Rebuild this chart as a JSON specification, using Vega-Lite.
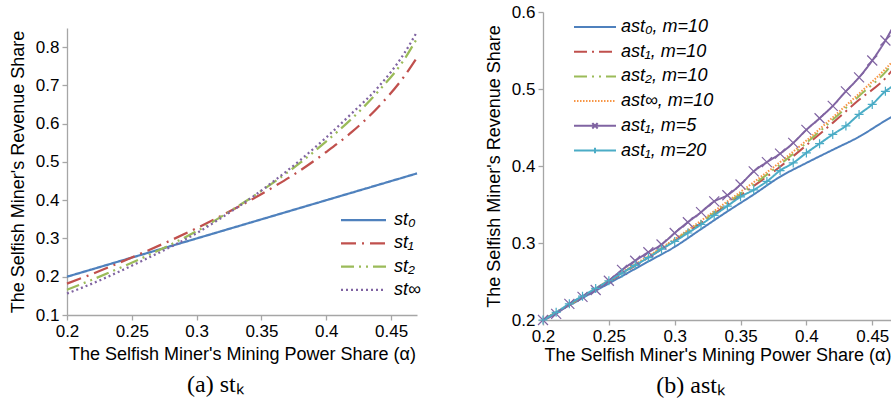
{
  "$schema": "https://vega.github.io/schema/vega-lite/v6.json",
  "padding": {"left": 9, "top": 3, "right": 0, "bottom": 0},
  "spacing": 63,
  "resolve": {"scale": {"color": "independent", "strokeDash": "independent"}, "legend": {"color": "independent", "strokeDash": "independent"}},
  "config": {
    "font": "Liberation Sans",
    "view": {"stroke": null},
    "axis": {"grid": false, "domainColor": "#a6a6a6", "tickColor": "#a6a6a6", "domainWidth": 1.3, "tickWidth": 1.3, "tickSize": 5, "labelColor": "#000", "titleColor": "#000", "labelFont": "Liberation Sans", "titleFont": "Liberation Sans", "labelFontSize": 17, "titleFontSize": 18, "titleFontWeight": "normal", "labelPadding": 3},
    "axisX": {"labelFlush": false, "titlePadding": 4},
    "axisY": {"titlePadding": 8},
    "legend": {"labelFont": "Liberation Sans", "labelColor": "#000", "padding": 0},
    "title": {"font": "Liberation Serif", "fontSize": 24, "fontWeight": "normal", "color": "#000"}
  },
  "datasets": {
    "left": [
      {"a": 0.2, "v": 0.2, "s": "st₀"}, {"a": 0.3, "v": 0.3, "s": "st₀"}, {"a": 0.4, "v": 0.4, "s": "st₀"}, {"a": 0.47, "v": 0.47, "s": "st₀"},
      {"a": 0.2, "v": 0.182, "s": "st₁"}, {"a": 0.22, "v": 0.208, "s": "st₁"}, {"a": 0.24, "v": 0.236, "s": "st₁"}, {"a": 0.26, "v": 0.265, "s": "st₁"}, {"a": 0.28, "v": 0.295, "s": "st₁"}, {"a": 0.3, "v": 0.327, "s": "st₁"}, {"a": 0.32, "v": 0.361, "s": "st₁"}, {"a": 0.34, "v": 0.397, "s": "st₁"}, {"a": 0.36, "v": 0.436, "s": "st₁"}, {"a": 0.38, "v": 0.478, "s": "st₁"}, {"a": 0.4, "v": 0.526, "s": "st₁"}, {"a": 0.42, "v": 0.579, "s": "st₁"}, {"a": 0.44, "v": 0.643, "s": "st₁"}, {"a": 0.46, "v": 0.723, "s": "st₁"}, {"a": 0.47, "v": 0.773, "s": "st₁"},
      {"a": 0.2, "v": 0.166, "s": "st₂"}, {"a": 0.22, "v": 0.193, "s": "st₂"}, {"a": 0.24, "v": 0.222, "s": "st₂"}, {"a": 0.26, "v": 0.252, "s": "st₂"}, {"a": 0.28, "v": 0.284, "s": "st₂"}, {"a": 0.3, "v": 0.319, "s": "st₂"}, {"a": 0.32, "v": 0.359, "s": "st₂"}, {"a": 0.34, "v": 0.402, "s": "st₂"}, {"a": 0.36, "v": 0.448, "s": "st₂"}, {"a": 0.38, "v": 0.498, "s": "st₂"}, {"a": 0.4, "v": 0.554, "s": "st₂"}, {"a": 0.42, "v": 0.614, "s": "st₂"}, {"a": 0.44, "v": 0.684, "s": "st₂"}, {"a": 0.46, "v": 0.767, "s": "st₂"}, {"a": 0.47, "v": 0.823, "s": "st₂"},
      {"a": 0.2, "v": 0.156, "s": "st∞"}, {"a": 0.22, "v": 0.183, "s": "st∞"}, {"a": 0.24, "v": 0.213, "s": "st∞"}, {"a": 0.26, "v": 0.245, "s": "st∞"}, {"a": 0.28, "v": 0.278, "s": "st∞"}, {"a": 0.3, "v": 0.314, "s": "st∞"}, {"a": 0.32, "v": 0.356, "s": "st∞"}, {"a": 0.34, "v": 0.401, "s": "st∞"}, {"a": 0.36, "v": 0.451, "s": "st∞"}, {"a": 0.38, "v": 0.505, "s": "st∞"}, {"a": 0.4, "v": 0.564, "s": "st∞"}, {"a": 0.42, "v": 0.628, "s": "st∞"}, {"a": 0.44, "v": 0.695, "s": "st∞"}, {"a": 0.46, "v": 0.783, "s": "st∞"}, {"a": 0.47, "v": 0.84, "s": "st∞"}
    ],
    "right": [
      {"a": 0.2, "v": 0.2, "s": "ast₀, m=10"}, {"a": 0.22, "v": 0.219, "s": "ast₀, m=10"}, {"a": 0.24, "v": 0.238, "s": "ast₀, m=10"}, {"a": 0.26, "v": 0.257, "s": "ast₀, m=10"}, {"a": 0.28, "v": 0.276, "s": "ast₀, m=10"}, {"a": 0.3, "v": 0.295, "s": "ast₀, m=10"}, {"a": 0.32, "v": 0.318, "s": "ast₀, m=10"}, {"a": 0.34, "v": 0.341, "s": "ast₀, m=10"}, {"a": 0.36, "v": 0.363, "s": "ast₀, m=10"}, {"a": 0.38, "v": 0.386, "s": "ast₀, m=10"}, {"a": 0.4, "v": 0.404, "s": "ast₀, m=10"}, {"a": 0.42, "v": 0.421, "s": "ast₀, m=10"}, {"a": 0.44, "v": 0.438, "s": "ast₀, m=10"}, {"a": 0.46, "v": 0.459, "s": "ast₀, m=10"}, {"a": 0.465, "v": 0.464, "s": "ast₀, m=10"},
      {"a": 0.2, "v": 0.2, "s": "ast₁, m=10"}, {"a": 0.22, "v": 0.22, "s": "ast₁, m=10"}, {"a": 0.24, "v": 0.24, "s": "ast₁, m=10"}, {"a": 0.26, "v": 0.26, "s": "ast₁, m=10"}, {"a": 0.28, "v": 0.281, "s": "ast₁, m=10"}, {"a": 0.3, "v": 0.303, "s": "ast₁, m=10"}, {"a": 0.32, "v": 0.326, "s": "ast₁, m=10"}, {"a": 0.34, "v": 0.35, "s": "ast₁, m=10"}, {"a": 0.36, "v": 0.374, "s": "ast₁, m=10"}, {"a": 0.38, "v": 0.399, "s": "ast₁, m=10"}, {"a": 0.4, "v": 0.427, "s": "ast₁, m=10"}, {"a": 0.42, "v": 0.456, "s": "ast₁, m=10"}, {"a": 0.44, "v": 0.486, "s": "ast₁, m=10"}, {"a": 0.46, "v": 0.514, "s": "ast₁, m=10"}, {"a": 0.465, "v": 0.524, "s": "ast₁, m=10"},
      {"a": 0.2, "v": 0.2, "s": "ast₂, m=10"}, {"a": 0.22, "v": 0.22, "s": "ast₂, m=10"}, {"a": 0.24, "v": 0.241, "s": "ast₂, m=10"}, {"a": 0.26, "v": 0.261, "s": "ast₂, m=10"}, {"a": 0.28, "v": 0.282, "s": "ast₂, m=10"}, {"a": 0.3, "v": 0.304, "s": "ast₂, m=10"}, {"a": 0.32, "v": 0.327, "s": "ast₂, m=10"}, {"a": 0.34, "v": 0.352, "s": "ast₂, m=10"}, {"a": 0.36, "v": 0.376, "s": "ast₂, m=10"}, {"a": 0.38, "v": 0.402, "s": "ast₂, m=10"}, {"a": 0.4, "v": 0.43, "s": "ast₂, m=10"}, {"a": 0.42, "v": 0.46, "s": "ast₂, m=10"}, {"a": 0.44, "v": 0.491, "s": "ast₂, m=10"}, {"a": 0.46, "v": 0.522, "s": "ast₂, m=10"}, {"a": 0.465, "v": 0.532, "s": "ast₂, m=10"},
      {"a": 0.2, "v": 0.2, "s": "ast∞, m=10"}, {"a": 0.22, "v": 0.22, "s": "ast∞, m=10"}, {"a": 0.24, "v": 0.241, "s": "ast∞, m=10"}, {"a": 0.26, "v": 0.262, "s": "ast∞, m=10"}, {"a": 0.28, "v": 0.283, "s": "ast∞, m=10"}, {"a": 0.3, "v": 0.305, "s": "ast∞, m=10"}, {"a": 0.32, "v": 0.329, "s": "ast∞, m=10"}, {"a": 0.34, "v": 0.354, "s": "ast∞, m=10"}, {"a": 0.36, "v": 0.379, "s": "ast∞, m=10"}, {"a": 0.38, "v": 0.405, "s": "ast∞, m=10"}, {"a": 0.4, "v": 0.433, "s": "ast∞, m=10"}, {"a": 0.42, "v": 0.463, "s": "ast∞, m=10"}, {"a": 0.44, "v": 0.494, "s": "ast∞, m=10"}, {"a": 0.46, "v": 0.526, "s": "ast∞, m=10"}, {"a": 0.465, "v": 0.535, "s": "ast∞, m=10"},
      {"a": 0.2, "v": 0.2, "s": "ast₁, m=5"}, {"a": 0.21, "v": 0.208, "s": "ast₁, m=5"}, {"a": 0.22, "v": 0.221, "s": "ast₁, m=5"}, {"a": 0.23, "v": 0.23, "s": "ast₁, m=5"}, {"a": 0.24, "v": 0.239, "s": "ast₁, m=5"}, {"a": 0.25, "v": 0.251, "s": "ast₁, m=5"}, {"a": 0.26, "v": 0.265, "s": "ast₁, m=5"}, {"a": 0.27, "v": 0.277, "s": "ast₁, m=5"}, {"a": 0.28, "v": 0.288, "s": "ast₁, m=5"}, {"a": 0.29, "v": 0.298, "s": "ast₁, m=5"}, {"a": 0.3, "v": 0.313, "s": "ast₁, m=5"}, {"a": 0.31, "v": 0.327, "s": "ast₁, m=5"}, {"a": 0.32, "v": 0.34, "s": "ast₁, m=5"}, {"a": 0.33, "v": 0.354, "s": "ast₁, m=5"}, {"a": 0.34, "v": 0.362, "s": "ast₁, m=5"}, {"a": 0.35, "v": 0.376, "s": "ast₁, m=5"}, {"a": 0.36, "v": 0.393, "s": "ast₁, m=5"}, {"a": 0.37, "v": 0.405, "s": "ast₁, m=5"}, {"a": 0.38, "v": 0.416, "s": "ast₁, m=5"}, {"a": 0.39, "v": 0.43, "s": "ast₁, m=5"}, {"a": 0.4, "v": 0.447, "s": "ast₁, m=5"}, {"a": 0.41, "v": 0.462, "s": "ast₁, m=5"}, {"a": 0.42, "v": 0.478, "s": "ast₁, m=5"}, {"a": 0.43, "v": 0.497, "s": "ast₁, m=5"}, {"a": 0.44, "v": 0.515, "s": "ast₁, m=5"}, {"a": 0.45, "v": 0.537, "s": "ast₁, m=5"}, {"a": 0.46, "v": 0.563, "s": "ast₁, m=5"}, {"a": 0.465, "v": 0.578, "s": "ast₁, m=5"},
      {"a": 0.2, "v": 0.2, "s": "ast₁, m=20"}, {"a": 0.21, "v": 0.21, "s": "ast₁, m=20"}, {"a": 0.22, "v": 0.221, "s": "ast₁, m=20"}, {"a": 0.23, "v": 0.231, "s": "ast₁, m=20"}, {"a": 0.24, "v": 0.241, "s": "ast₁, m=20"}, {"a": 0.25, "v": 0.251, "s": "ast₁, m=20"}, {"a": 0.26, "v": 0.261, "s": "ast₁, m=20"}, {"a": 0.27, "v": 0.271, "s": "ast₁, m=20"}, {"a": 0.28, "v": 0.281, "s": "ast₁, m=20"}, {"a": 0.29, "v": 0.292, "s": "ast₁, m=20"}, {"a": 0.3, "v": 0.302, "s": "ast₁, m=20"}, {"a": 0.31, "v": 0.313, "s": "ast₁, m=20"}, {"a": 0.32, "v": 0.324, "s": "ast₁, m=20"}, {"a": 0.33, "v": 0.336, "s": "ast₁, m=20"}, {"a": 0.34, "v": 0.348, "s": "ast₁, m=20"}, {"a": 0.35, "v": 0.36, "s": "ast₁, m=20"}, {"a": 0.36, "v": 0.369, "s": "ast₁, m=20"}, {"a": 0.37, "v": 0.38, "s": "ast₁, m=20"}, {"a": 0.38, "v": 0.394, "s": "ast₁, m=20"}, {"a": 0.39, "v": 0.404, "s": "ast₁, m=20"}, {"a": 0.4, "v": 0.417, "s": "ast₁, m=20"}, {"a": 0.41, "v": 0.429, "s": "ast₁, m=20"}, {"a": 0.42, "v": 0.441, "s": "ast₁, m=20"}, {"a": 0.43, "v": 0.452, "s": "ast₁, m=20"}, {"a": 0.44, "v": 0.467, "s": "ast₁, m=20"}, {"a": 0.45, "v": 0.48, "s": "ast₁, m=20"}, {"a": 0.46, "v": 0.497, "s": "ast₁, m=20"}, {"a": 0.465, "v": 0.503, "s": "ast₁, m=20"}
    ]
  },
  "hconcat": [
    {
      "spacing": 0,
      "title": {"text": "(a) stₖ", "orient": "bottom", "anchor": "middle", "frame": "bounds", "offset": 10},
      "vconcat": [
        {
          "width": 350,
          "height": 15,
          "data": {"values": []},
          "mark": "point",
          "encoding": {}
        },
        {
          "width": 350,
          "height": 287,
          "data": {"name": "left"},
          "mark": {"type": "line", "strokeWidth": 2.25, "interpolate": "monotone"},
          "encoding": {
            "x": {"field": "a", "type": "quantitative", "scale": {"domain": [0.2, 0.47], "nice": false, "zero": false}, "axis": {"title": "The Selfish Miner's Mining Power Share (α)", "titlePadding": 6, "values": [0.2, 0.25, 0.3, 0.35, 0.4, 0.45], "format": "~g"}},
            "y": {"field": "v", "type": "quantitative", "scale": {"domain": [0.1, 0.85], "nice": false, "zero": false}, "axis": {"title": "The Selfish Miner's Revenue Share", "values": [0.1, 0.2, 0.3, 0.4, 0.5, 0.6, 0.7, 0.8], "format": "~g"}},
            "color": {"field": "s", "type": "nominal", "scale": {"domain": ["st₀", "st₁", "st₂", "st∞"], "range": ["#4F81BD", "#C0504D", "#9BBB59", "#8064A2"]},
              "legend": {"title": null, "orient": "none", "legendX": 285, "legendY": 196.7, "symbolType": "M-2.25,0H2.25", "symbolSize": 400, "symbolStrokeWidth": 2.25, "labelFontSize": 18, "labelFontStyle": "italic", "labelOffset": 19, "rowPadding": 2.2}},
            "strokeDash": {"field": "s", "type": "nominal", "scale": {"domain": ["st₀", "st₁", "st₂", "st∞"], "range": [[1, 0], [15, 6, 2, 6], [13, 5, 2, 5, 2, 5], [2, 3]]},
              "legend": {"title": null, "orient": "none", "legendX": 285, "legendY": 196.7, "symbolType": "M-2.25,0H2.25", "symbolSize": 400, "symbolStrokeWidth": 2.25, "labelFontSize": 18, "labelFontStyle": "italic", "labelOffset": 19, "rowPadding": 2.2}}
          }
        }
      ]
    },
    {
      "width": 349,
      "height": 308,
      "title": {"text": "(b) astₖ", "orient": "bottom", "anchor": "middle", "frame": "bounds", "offset": 10},
      "data": {"name": "right"},
      "layer": [
        {
          "mark": {"type": "line", "strokeWidth": 2, "interpolate": "monotone"},
          "encoding": {
            "x": {"field": "a", "type": "quantitative", "scale": {"domain": [0.2, 0.465], "nice": false, "zero": false}, "axis": {"title": "The Selfish Miner's Mining Power Share (α)", "titlePadding": 2, "values": [0.2, 0.25, 0.3, 0.35, 0.4, 0.45], "format": "~g"}},
            "y": {"field": "v", "type": "quantitative", "scale": {"domain": [0.2, 0.6], "nice": false, "zero": false}, "axis": {"title": "The Selfish Miner's Revenue Share", "values": [0.2, 0.3, 0.4, 0.5, 0.6], "format": "~g"}},
            "color": {"field": "s", "type": "nominal", "scale": {"domain": ["ast₀, m=10", "ast₁, m=10", "ast₂, m=10", "ast∞, m=10", "ast₁, m=5", "ast₁, m=20"], "range": ["#4F81BD", "#C0504D", "#9BBB59", "#F79646", "#8064A2", "#4BACC6"]},
              "legend": {"title": null, "orient": "none", "legendX": 41, "legendY": 4, "symbolType": "M-2.1,0H2.1", "symbolSize": 400, "symbolStrokeWidth": 2, "labelFontSize": 18, "labelFontStyle": "italic", "labelOffset": 15, "rowPadding": 4.7,
                "encode": {"symbols": {"update": {"shape": {"signal": "datum.value === 'ast₁, m=5' ? 'M-2.1,0H2.1M-0.27,-0.27L0.27,0.27M-0.27,0.27L0.27,-0.27' : (datum.value === 'ast₁, m=20' ? 'M-2.1,0H2.1M0,-0.27V0.27' : 'M-2.1,0H2.1')"}}}}}},
            "strokeDash": {"field": "s", "type": "nominal", "scale": {"domain": ["ast₀, m=10", "ast₁, m=10", "ast₂, m=10", "ast∞, m=10", "ast₁, m=5", "ast₁, m=20"], "range": [[1, 0], [13, 5, 2, 5], [13, 5, 2, 5, 2, 5], [1.5, 1.5], [1, 0], [1, 0]]},
              "legend": {"title": null, "orient": "none", "legendX": 41, "legendY": 4, "symbolType": "M-2.1,0H2.1", "symbolSize": 400, "symbolStrokeWidth": 2, "labelFontSize": 18, "labelFontStyle": "italic", "labelOffset": 15, "rowPadding": 4.7,
                "encode": {"symbols": {"update": {"shape": {"signal": "datum.value === 'ast₁, m=5' ? 'M-2.1,0H2.1M-0.27,-0.27L0.27,0.27M-0.27,0.27L0.27,-0.27' : (datum.value === 'ast₁, m=20' ? 'M-2.1,0H2.1M0,-0.27V0.27' : 'M-2.1,0H2.1')"}}}}}}
          }
        },
        {
          "transform": [{"filter": "datum.s === 'ast₁, m=5' && datum.a < 0.462"}],
          "mark": {"type": "point", "shape": "M-1,-1L1,1M-1,1L1,-1", "size": 100, "filled": false, "stroke": "#8064A2", "strokeWidth": 1.2, "opacity": 1},
          "encoding": {"x": {"field": "a", "type": "quantitative"}, "y": {"field": "v", "type": "quantitative"}}
        },
        {
          "transform": [{"filter": "datum.s === 'ast₁, m=20' && datum.a < 0.462"}],
          "mark": {"type": "point", "shape": "M-1,0H1M0,-1V1", "size": 81, "filled": false, "stroke": "#4BACC6", "strokeWidth": 1.2, "opacity": 1},
          "encoding": {"x": {"field": "a", "type": "quantitative"}, "y": {"field": "v", "type": "quantitative"}}
        }
      ]
    }
  ]
}
